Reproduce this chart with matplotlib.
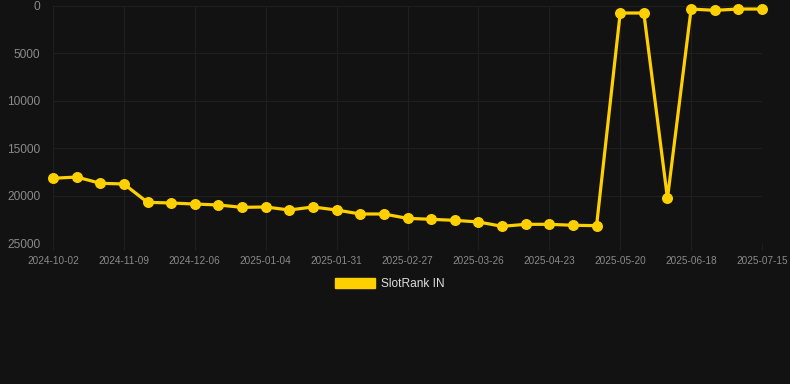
import matplotlib.pyplot as plt
from matplotlib.patches import Patch

plt.rcParams['font.family'] = ['Liberation Sans', 'DejaVu Sans']

# --- Datos ---
dates = ['2024-10-02', '2024-10-15', '2024-10-27', '2024-11-09', '2024-11-18',
         '2024-11-27', '2024-12-06', '2024-12-16', '2024-12-25', '2025-01-04',
         '2025-01-13', '2025-01-22', '2025-01-31', '2025-02-09', '2025-02-18',
         '2025-02-27', '2025-03-08', '2025-03-17', '2025-03-26', '2025-04-04',
         '2025-04-13', '2025-04-23', '2025-05-02', '2025-05-11', '2025-05-20',
         '2025-05-30', '2025-06-08', '2025-06-18', '2025-06-27', '2025-07-06',
         '2025-07-15']
rank = [18175, 18040, 18700, 18775, 20710, 20780, 20890, 20990, 21240, 21200,
        21520, 21200, 21520, 21940, 21940, 22400, 22500, 22610, 22780, 23240,
        23030, 23030, 23130, 23170, 740, 740, 20290, 320, 460, 320, 320]
yticks = [0, 5000, 10000, 15000, 20000, 25000]

bg = '#121212'
yellow = '#ffd000'
grid_c = '#1f1f1f'
txt_c = '#8a8a8a'

fig = plt.figure(figsize=(7.9, 3.84), dpi=100, facecolor=bg)
ax = fig.add_axes([53 / 790, 1 - 243 / 384, 709 / 790, 237 / 384], facecolor=bg)

x = list(range(len(dates)))
ax.plot(x, rank, color=yellow, linewidth=2.3, marker='o', markersize=6.9,
        clip_on=False, zorder=3)

ax.set_xlim(0, len(dates) - 1)
ax.set_ylim(25000, 0)
ax.set_yticks(yticks)
ax.set_yticklabels([str(v) for v in yticks], fontsize=8.6, color=txt_c)
ax.set_xticks(x[::3])
ax.set_xticklabels(dates[::3], fontsize=7.2, color=txt_c)
ax.tick_params(axis='y', length=0, pad=9)
ax.tick_params(axis='x', length=5, color=grid_c, pad=4)
ax.grid(True, color=grid_c, linewidth=0.8)
for s in ax.spines.values():
    s.set_visible(False)

fig.legend(handles=[Patch(facecolor=yellow, edgecolor=yellow, label='SlotRank IN')],
           loc='center', bbox_to_anchor=(390 / 790, 1 - 284 / 384),
           frameon=False, fontsize=8.6, labelcolor='#dddddd',
           handlelength=3.3, handleheight=0.9, handletextpad=0.5)

fig.savefig('out.png', facecolor=bg)
